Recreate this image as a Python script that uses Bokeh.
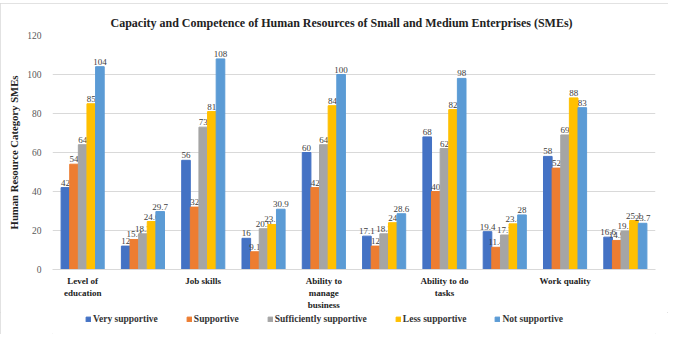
import numpy as np
from bokeh.plotting import figure
from bokeh.layouts import column
from bokeh.models import Range1d, FixedTicker, Legend, LegendItem, ColumnDataSource
from bokeh.embed import file_html
from bokeh.resources import INLINE

title = "Capacity and Competence of Human Resources of Small and Medium Enterprises (SMEs)"
y_label = "Human Resource Category SMEs"
category_labels = ["Level of\neducation", "Job skills", "Ability to\nmanage\nbusiness",
                   "Ability to do\ntasks", "Work quality"]
series_names = ["Very supportive", "Supportive", "Sufficiently supportive",
                "Less supportive", "Not supportive"]
colors = ["#4472C4", "#ED7D31", "#A5A5A5", "#FFC000", "#5B9BD5"]

very_supportive = [42, 12, 56, 16, 60, 17.1, 68, 19.4, 58, 16.6]
supportive = [54, 15.4, 32, 9.1, 42, 12, 40, 11.4, 52, 14.9]
sufficiently_supportive = [64, 18.3, 73, 20.9, 64, 18.3, 62, 17.7, 69, 19.7]
less_supportive = [85, 24.6, 81, 23.1, 84, 24, 82, 23.4, 88, 25.1]
not_supportive = [104, 29.7, 108, 30.9, 100, 28.6, 98, 28, 83, 23.7]
y_ticks = [0, 20, 40, 60, 80, 100, 120]

series = [very_supportive, supportive, sufficiently_supportive, less_supportive, not_supportive]

FONT = "Liberation Serif"
n_groups = len(very_supportive)
group_x = np.arange(1, n_groups + 1)
bw = 0.143

p = figure(width=668, height=309, output_backend="svg", toolbar_location=None,
           x_range=Range1d(0.5, n_groups + 0.5), y_range=Range1d(0, 120),
           min_border_left=52, min_border_right=13, min_border_top=32, min_border_bottom=43)
p.title.text = title
p.title.align = "left"
p.title.offset = 58
p.title.standoff = 12
p.title.text_font = FONT
p.title.text_font_size = "12px"
p.title.text_font_style = "bold"
p.title.text_color = "#222222"

for i, (vals, c) in enumerate(zip(series, colors)):
    xs = group_x + (i - 2) * bw
    src = ColumnDataSource(dict(x=xs, top=vals, lab=[("%g" % v) for v in vals]))
    p.vbar(x="x", top="top", width=bw, color=c, source=src)
    p.text(x="x", y="top", text="lab", source=src, text_align="center",
           text_baseline="bottom", y_offset=-2, text_font_size="9px",
           text_font={"value": FONT}, text_color="#404040")

p.xgrid.visible = False
p.ygrid.grid_line_color = "#d9d9d9"
p.outline_line_color = None

p.yaxis.ticker = FixedTicker(ticks=y_ticks)
p.yaxis.axis_line_color = None
p.yaxis.major_tick_line_color = None
p.yaxis.minor_tick_line_color = None
p.yaxis.major_label_text_font = FONT
p.yaxis.major_label_text_font_size = "9.5px"
p.yaxis.major_label_text_color = "#595959"
p.yaxis.axis_label = y_label
p.yaxis.axis_label_text_font = FONT
p.yaxis.axis_label_text_font_size = "10.7px"
p.yaxis.axis_label_text_font_style = "bold"
p.yaxis.axis_label_text_color = "#222222"
p.yaxis.axis_label_standoff = 4

label_pos = [1, 3, 5, 7, 9]
p.xaxis.ticker = FixedTicker(ticks=label_pos)
p.xaxis.major_label_overrides = {k: v for k, v in zip(label_pos, category_labels)}
p.xaxis.axis_line_color = "#d9d9d9"
p.xaxis.major_tick_line_color = None
p.xaxis.minor_tick_line_color = None
p.xaxis.major_label_text_font = FONT
p.xaxis.major_label_text_font_size = "9px"
p.xaxis.major_label_text_font_style = "bold"
p.xaxis.major_label_text_color = "#222222"
p.xaxis.major_label_standoff = 0

# legend strip below the chart
pl = figure(width=668, height=22, output_backend="svg", toolbar_location=None,
            x_range=Range1d(0, 1), y_range=Range1d(0, 1),
            min_border_left=0, min_border_right=0, min_border_top=0, min_border_bottom=0)
pl.axis.visible = False
pl.grid.visible = False
pl.outline_line_color = None
leg_renderers = [pl.vbar(x=[-5], top=[0], width=0.1, color=c) for c in colors]
legend = Legend(items=[LegendItem(label=n, renderers=[r]) for n, r in zip(series_names, leg_renderers)],
                orientation="horizontal", location=(33, 10), glyph_width=6, glyph_height=6,
                label_text_font=FONT, label_text_font_size="9.5px", label_text_font_style="bold",
                label_text_color="#333333", spacing=28, label_standoff=2,
                background_fill_alpha=0, border_line_color=None, padding=0, margin=0)
pl.add_layout(legend, "center")

layout = column(p, pl, spacing=0)
layout.styles = {"margin-top": "3px", "outline": "1px solid #d9d9d9", "outline-offset": "-1px"}
open("out.html", "w").write(file_html(layout, INLINE))
